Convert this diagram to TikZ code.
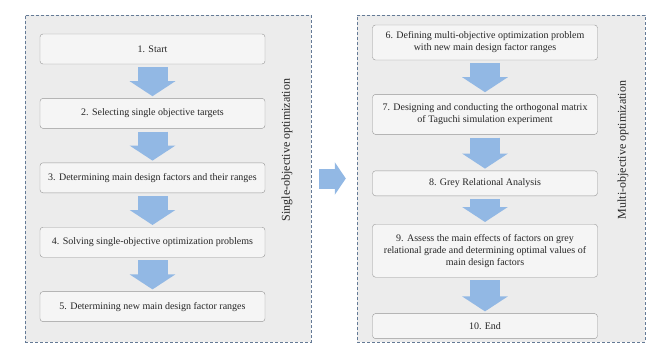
\documentclass[tikz,border=0pt]{standalone}
\usepackage{fontspec}
\setmainfont{Liberation Serif}
\usetikzlibrary{positioning}
\usetikzlibrary{arrows.meta}
\definecolor{panelgray}{RGB}{236,236,236}
\definecolor{dashblue}{RGB}{100,122,150}
\definecolor{flowblue}{RGB}{146,184,228}
\definecolor{boxline}{RGB}{150,150,150}

\begin{document}
\begin{tikzpicture}[x=1pt,y=-1pt, font=\fontsize{10}{12}\selectfont,
    panel/.style={draw=dashblue,dash pattern=on 3pt off 2pt,fill=panelgray,minimum height=327pt},
    stepbox/.style={draw=boxline,fill=white!96!black,rounded corners=3pt,align=center,
      minimum width=225pt,minimum height=30pt,inner sep=4pt,text=black!85},
    flow/.style={flowblue,line width=30pt,-{Triangle[width=45pt,length=15pt]},shorten <=3pt,shorten >=2pt},
    sidelabel/.style={rotate=90,font=\fontsize{12}{14}\selectfont,text=black!85},
    node distance=34pt]
      \useasboundingbox (0,0) rectangle (651,345);

      \node[panel,minimum width=286pt] (single) at (168,178.5) {};
      \node[panel,minimum width=288pt] (multi) at (501,178.5) {};

      \node[stepbox] (b1) at (152.5,49) {1. Start};
      \node[stepbox,below=of b1] (b2) {2. Selecting single objective targets};
      \node[stepbox,below=of b2] (b3) {3. Determining main design factors and their ranges};
      \node[stepbox,below=of b3] (b4) {4. Solving single-objective optimization problems};
      \node[stepbox,below=of b4] (b5) {5. Determining new main design factor ranges};

      \node[stepbox,minimum height=35pt] (b6) at (485,42.5) {6. Defining multi-objective optimization problem\\with new main design factor ranges};
      \node[stepbox,below=of b6,minimum height=40pt] (b7) {7. Designing and conducting the orthogonal matrix\\of Taguchi simulation experiment};
      \node[stepbox,below=36pt of b7,minimum height=25pt] (b8) {8. Grey Relational Analysis};
      \node[stepbox,below=28pt of b8,minimum height=53pt] (b9) {9. Assess the main effects of factors on grey\\relational grade and determining optimal values of\\main design factors};
      \node[stepbox,below=36pt of b9,minimum height=25pt] (b10) {10. End};

      \node[sidelabel] (lsingle) at (287,150) {Single-objective optimization};
      \node[sidelabel] (lmulti) at (623,150) {Multi-objective optimization};

      \foreach \a/\b in {b1/b2,b2/b3,b3/b4,b4/b5,b6/b7,b7/b8,b8/b9,b9/b10}
        \draw[flow] (\a) -- (\b);
      \draw[flow,line width=20pt,-{Triangle[width=32pt,length=11pt]},shorten <=8pt,shorten >=11pt] (single) -- (multi);
    \end{tikzpicture}
\end{document}
